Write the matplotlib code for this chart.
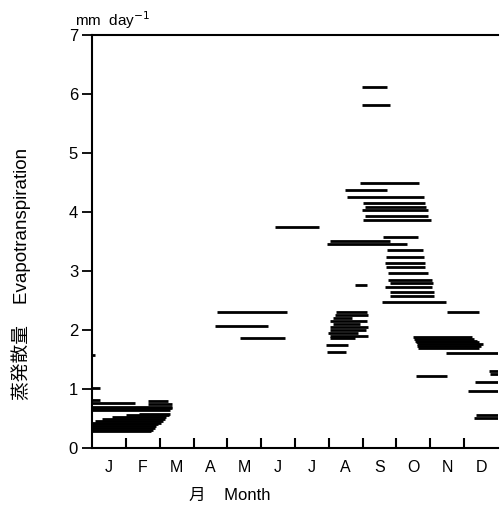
import matplotlib
matplotlib.use('Agg')
import matplotlib.pyplot as plt

plt.rcParams['font.family'] = ['Liberation Sans', 'Noto Sans CJK JP']

months = ['J', 'F', 'M', 'A', 'M', 'J', 'J', 'A', 'S', 'O', 'N', 'D']

# each segment: value (mm/day), start and end (in months from 1 Jan)
winter_val = [1.02, 0.82, 0.80, 0.76, 0.75, 0.70, 0.67, 0.64, 0.58, 0.55, 0.52, 0.49,
              0.46, 0.43, 0.40, 0.37, 0.34, 0.31, 0.28, 1.58]
winter_start = [0.0, 0.0, 1.66, 0.0, 1.66, 0.0, 0.0, 0.0, 1.4, 1.0, 0.6, 0.3,
                0.1, 0.0, 0.0, 0.0, 0.0, 0.0, 0.0, 0.0]
winter_end = [0.25, 0.25, 2.25, 1.27, 2.36, 2.36, 2.36, 2.30, 2.30, 2.28, 2.20, 2.15,
              2.10, 2.05, 1.95, 1.90, 1.85, 1.80, 1.75, 0.08]

spring_val = [2.31, 2.06, 1.87, 3.74]
spring_start = [3.69, 3.64, 4.37, 5.41]
spring_end = [5.76, 5.20, 5.70, 6.71]

aug_val = [2.30, 2.25, 2.20, 2.15, 2.10, 2.05, 2.00, 1.95, 1.90, 1.86, 1.75, 1.63,
           2.77, 3.50, 3.45]
aug_start = [7.21, 7.18, 7.12, 7.04, 7.12, 7.04, 7.04, 6.98, 7.04, 7.04, 6.92, 6.95,
             7.77, 7.04, 6.95]
aug_end = [8.13, 8.16, 7.69, 8.13, 7.92, 8.16, 8.10, 7.86, 8.16, 7.77, 7.57, 7.51,
           8.13, 8.81, 9.30]

sep_val = [6.12, 5.81, 4.50, 4.37, 4.25, 4.16, 4.09, 4.03, 3.94, 3.87, 3.58, 3.35,
           3.24, 3.14, 3.06, 2.97, 2.85, 2.79, 2.72, 2.65, 2.57, 2.47]
sep_start = [7.98, 7.98, 7.92, 7.48, 7.54, 8.01, 8.07, 7.98, 8.07, 8.01, 8.60, 8.72,
             8.69, 8.66, 8.69, 8.75, 8.75, 8.81, 8.66, 8.81, 8.81, 8.57]
sep_end = [8.72, 8.81, 9.67, 8.72, 9.81, 9.84, 9.87, 9.93, 9.93, 10.02, 9.64, 9.78,
           9.81, 9.84, 9.84, 9.93, 10.05, 10.08, 10.05, 10.11, 10.11, 10.46]

autumn_val = [2.31, 1.88, 1.85, 1.82, 1.79, 1.76, 1.73, 1.70, 1.61, 1.22, 1.31, 1.25,
              1.12, 0.97, 0.55, 0.51]
autumn_start = [10.49, 9.49, 9.52, 9.55, 9.58, 9.60, 9.62, 9.64, 10.46, 9.58, 11.73, 11.76,
                11.32, 11.11, 11.35, 11.29]
autumn_end = [11.44, 11.23, 11.30, 11.38, 11.45, 11.56, 11.50, 11.45, 12.0, 10.49, 12.0, 12.0,
              12.0, 12.0, 12.0, 12.0]

fig = plt.figure(figsize=(5.0, 5.16), dpi=100)
ax = fig.add_axes([0.184, 0.132, 0.812, 0.80])

groups = [(winter_val, winter_start, winter_end),
          (spring_val, spring_start, spring_end),
          (aug_val, aug_start, aug_end),
          (sep_val, sep_start, sep_end),
          (autumn_val, autumn_start, autumn_end)]
for val, start, end in groups:
    ax.hlines(val, start, end, colors='black', linewidth=2.0, capstyle='butt')

ax.set_xlim(0, 12)
ax.set_ylim(0, 7)

ax.spines['right'].set_visible(False)
for s in ['left', 'bottom', 'top']:
    ax.spines[s].set_linewidth(1.5)

ax.set_yticks(range(8))
ax.tick_params(axis='y', direction='out', length=7, width=1.3, labelsize=12, pad=3)
ax.set_xticks(range(1, 12))
ax.set_xticks([m + 0.5 for m in range(12)], minor=True)
ax.set_xticklabels([])
ax.set_xticklabels(months, minor=True)
ax.tick_params(axis='x', which='major', direction='in', length=7, width=1.5)
ax.tick_params(axis='x', which='minor', length=0, labelsize=11.5, pad=9)

ax.text(0.05, 1.01, 'mm  day$^{-1}$', transform=ax.transAxes, ha='center', va='bottom', fontsize=11)
fig.text(0.46, 0.04, '月    Month', ha='center', va='center', fontsize=12)
fig.text(0.042, 0.47, '蒸発散量    Evapotranspiration', rotation=90, ha='center', va='center', fontsize=13.5)

fig.savefig('out.png', dpi=100)
